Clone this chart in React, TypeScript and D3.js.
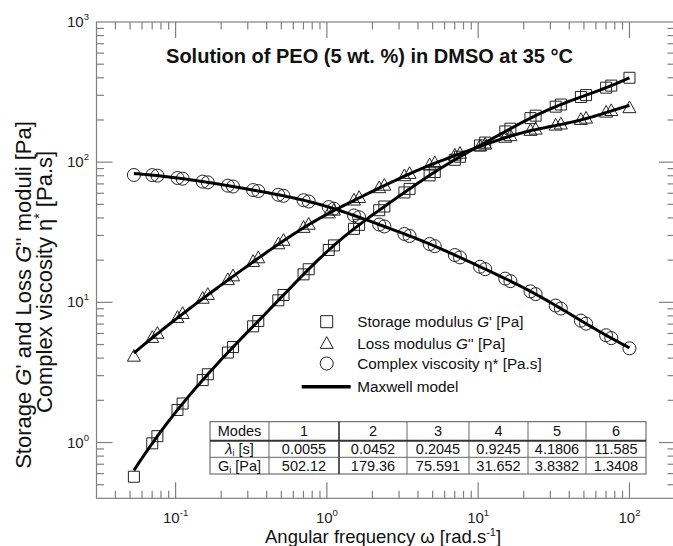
import React from 'react';
import * as d3 from 'd3';

// ---- data ----
const omega = [0.053, 0.0701, 0.0758, 0.1029, 0.1113, 0.151, 0.1633, 0.2216, 0.2397, 0.3254, 0.3519, 0.4776, 0.5166, 0.701, 0.7582, 1.0288, 1.1128, 1.5101, 1.6333, 2.2163, 2.3972, 3.2538, 3.5194, 4.776, 5.1657, 7.0096, 7.5816, 10.288, 11.128, 15.101, 16.333, 22.163, 23.972, 32.538, 35.194, 47.76, 51.657, 70.096, 75.816, 100];
const storageModulus = [0.57, 0.987, 1.11, 1.707, 1.897, 2.789, 3.069, 4.385, 4.797, 6.743, 7.359, 10.34, 11.28, 15.84, 17.23, 23.63, 25.47, 33.44, 35.72, 45.42, 48.27, 60.82, 64.49, 80.53, 85.04, 104.0, 109.3, 131.6, 138.0, 165.6, 173.3, 206.2, 214.7, 248.9, 257.8, 291.6, 301.0, 340.1, 351.7, 400];
const lossModulus = [4.1, 5.58, 5.97, 7.75, 8.27, 10.62, 11.31, 14.42, 15.34, 19.44, 20.64, 25.98, 27.5, 34.02, 35.81, 43.15, 45.16, 53.31, 55.6, 65.28, 67.99, 79.48, 82.56, 94.99, 98.29, 111.4, 114.9, 129.7, 133.6, 149.5, 153.4, 167.4, 170.8, 182.5, 185.9, 200.2, 204.7, 225.9, 231.8, 243];
const complexViscosity = [81, 80.84, 80.14, 77.1, 76.22, 72.71, 71.77, 68.0, 67.03, 63.24, 62.27, 58.53, 57.53, 53.53, 52.41, 47.82, 46.59, 41.67, 40.46, 35.88, 34.78, 30.76, 29.77, 26.07, 25.16, 21.74, 20.92, 17.95, 17.25, 14.77, 14.17, 11.98, 11.45, 9.487, 9.03, 7.405, 7.045, 5.824, 5.557, 4.7];

// Maxwell model parameters (table)
const modeLabels = ['1', '2', '3', '4', '5', '6'];
const relaxationTimes = ['0.0055', '0.0452', '0.2045', '0.9245', '4.1806', '11.585'];
const modeModuli = ['502.12', '179.36', '75.591', '31.652', '3.8382', '1.3408'];

const xTickExponents = [-1, 0, 1, 2];
const yTickExponents = [0, 1, 2, 3];

// ---- layout ----
const W = 673;
const H = 546;
const L = 96.5, R = 675, T = 22, B = 498.3;
const FONT = 'Liberation Sans, Arial, Helvetica, sans-serif';
const AXIS = '#808080';

const x = d3.scaleLog().domain([0.03, 200]).range([L, R]);
const y = d3.scaleLog().domain([0.4, 1000]).range([B, T]);

const isMajor = (v: number) => Math.abs(Math.log10(v) - Math.round(Math.log10(v))) < 1e-6;

// Maxwell model curve from table parameters
const lam = relaxationTimes.map(Number);
const gi = modeModuli.map(Number);
const maxwell = (w: number) => {
  let gp = 0, gpp = 0;
  lam.forEach((l, i) => {
    const t = w * l;
    gp += gi[i] * t * t / (1 + t * t);
    gpp += gi[i] * t / (1 + t * t);
  });
  return { gp, gpp, eta: Math.sqrt(gp * gp + gpp * gpp) / w };
};
const wMin = omega[0], wMax = omega[omega.length - 1];
const modelW = d3.range(0, 241).map(i => wMin * Math.pow(wMax / wMin, i / 240));
const model = modelW.map(w => ({ w, ...maxwell(w) }));

const line = (key: 'gp' | 'gpp' | 'eta') =>
  d3.line<any>().x(d => x(d.w)).y(d => y(d[key]))(model) || '';

const SQ = 11;
const squarePath = (cx: number, cy: number, s = SQ) =>
  `M${cx - s / 2},${cy - s / 2}h${s}v${s}h${-s}Z`;
const triPath = (cx: number, cy: number, s = 13) =>
  `M${cx},${cy - s * 0.55}L${cx + s / 2},${cy + s * 0.35}L${cx - s / 2},${cy + s * 0.35}Z`;

const MK = '#222';

export default function App() {
  const xt = x.ticks().filter(v => v > 0.0301 && v < 199);
  const yt = y.ticks().filter(v => v > 0.401 && v < 999);

  const colX = [210, 269, 339, 407, 469, 528, 586, 646];
  const rowY = [421.7, 440.7, 457.3, 474];
  const cellCx = (i: number) => (colX[i] + colX[i + 1]) / 2;
  const TF = 14.5;

  return (
    <svg width={W} height={H} style={{ position: 'absolute', left: 0, top: 0, display: 'block', background: '#fff' }} fontFamily={FONT}>
      <rect x={0} y={0} width={W} height={H} fill="#fff" />
      {/* frame */}
      <rect x={L} y={T} width={R - L} height={B - T} fill="none" stroke={AXIS} strokeWidth={1.2} />
      {/* x ticks */}
      {xt.map((v, i) => {
        const len = isMajor(v) ? 16 : 7.5;
        const px = x(v);
        return (
          <g key={'xt' + i} stroke={AXIS} strokeWidth={1.2}>
            <line x1={px} x2={px} y1={B} y2={B - len} />
            <line x1={px} x2={px} y1={T} y2={T + len} />
          </g>
        );
      })}
      {yt.map((v, i) => {
        const len = isMajor(v) ? 16 : 7.5;
        const py = y(v);
        return (
          <g key={'yt' + i} stroke={AXIS} strokeWidth={1.2}>
            <line x1={L} x2={L + len} y1={py} y2={py} />
            <line x1={R} x2={R - len} y1={py} y2={py} />
          </g>
        );
      })}
      {/* x tick labels */}
      {xTickExponents.map(e => (
        <text key={'xl' + e} x={x(Math.pow(10, e))} y={523} textAnchor="middle" fontSize={15} fill="#222">
          10<tspan dy={-7} fontSize={9.5}>{e}</tspan>
        </text>
      ))}
      {/* y tick labels */}
      {yTickExponents.map(e => (
        <text key={'yl' + e} x={89} y={y(Math.pow(10, e)) + 5} textAnchor="end" fontSize={15} fill="#222">
          10<tspan dy={-7} fontSize={9.5}>{e}</tspan>
        </text>
      ))}
      {/* axis titles */}
      <text x={265} y={543} fontSize={18.5} fill="#111">
        Angular frequency ω [rad.s<tspan dy={-7} fontSize={11}>-1</tspan><tspan dy={7}>]</tspan>
      </text>
      <g transform="translate(31,0) rotate(-90)">
        <text x={-295} y={0} textAnchor="middle" fontSize={22} fill="#111">
          Storage <tspan fontStyle="italic">G</tspan>' and Loss <tspan fontStyle="italic">G</tspan>'' moduli [Pa]
        </text>
        <text x={-282} y={21} textAnchor="middle" fontSize={22} fill="#111">
          Complex viscosity η<tspan dy={-8} fontSize={14}>*</tspan><tspan dy={8}> [Pa.s]</tspan>
        </text>
      </g>
      {/* title */}
      <text x={369.5} y={63} textAnchor="middle" fontSize={20} fontWeight="bold" fill="#111">
        Solution of PEO (5 wt. %) in DMSO at 35 °C
      </text>

      {/* data markers */}
      <g fill="none" stroke={MK} strokeWidth={1}>
        {omega.map((w, i) => (
          <path key={'s' + i} d={squarePath(x(w), y(storageModulus[i]))} />
        ))}
        {omega.map((w, i) => (
          <path key={'t' + i} d={triPath(x(w), y(lossModulus[i]))} />
        ))}
        {omega.map((w, i) => (
          <circle key={'c' + i} cx={x(w)} cy={y(complexViscosity[i])} r={6.5} />
        ))}
      </g>
      {/* model lines */}
      <g fill="none" stroke="#000" strokeWidth={3}>
        <path d={line('gp')} />
        <path d={line('gpp')} />
        <path d={line('eta')} />
      </g>

      {/* legend */}
      <g fill="none" stroke={MK} strokeWidth={1}>
        <path d={squarePath(326.7, 321.7, 12)} />
        <path d={triPath(326.7, 343.8, 13)} />
        <circle cx={326.7} cy={363.5} r={6.5} />
      </g>
      <line x1={301.7} x2={350.7} y1={386.7} y2={386.7} stroke="#000" strokeWidth={3.5} />
      <g fontSize={15.3} fill="#111">
        <text x={357.3} y={327}>Storage modulus <tspan fontStyle="italic">G</tspan>' [Pa]</text>
        <text x={357.3} y={348.5}>Loss modulus <tspan fontStyle="italic">G</tspan>'' [Pa]</text>
        <text x={357.3} y={369}>Complex viscosity η* [Pa.s]</text>
        <text x={357.3} y={392}>Maxwell model</text>
      </g>

      {/* table */}
      <rect x={colX[0]} y={rowY[0]} width={colX[7] - colX[0]} height={rowY[3] - rowY[0]} fill="#fff" stroke="#555" strokeWidth={1} />
      {colX.slice(1, 7).map((cx, i) => (
        <line key={'cl' + i} x1={cx} x2={cx} y1={rowY[0]} y2={rowY[3]} stroke={i === 1 ? '#222' : '#666'} strokeWidth={i === 1 ? 1.5 : 1} />
      ))}
      <line x1={colX[0]} x2={colX[7]} y1={rowY[1]} y2={rowY[1]} stroke="#333" strokeWidth={2} />
      <line x1={colX[0]} x2={colX[7]} y1={rowY[2]} y2={rowY[2]} stroke="#666" strokeWidth={1} />
      <g fontSize={TF} fill="#111">
        <text x={cellCx(0)} y={436} textAnchor="middle">Modes</text>
        {modeLabels.map((m, i) => (
          <text key={'m' + i} x={cellCx(i + 1)} y={436} textAnchor="middle">{m}</text>
        ))}
        <text x={cellCx(0)} y={454} textAnchor="middle">
          <tspan fontStyle="italic">λ</tspan><tspan fontSize={9} dy={2}>i</tspan><tspan dy={-2}> [s]</tspan>
        </text>
        {relaxationTimes.map((m, i) => (
          <text key={'l' + i} x={cellCx(i + 1)} y={454} textAnchor="middle">{m}</text>
        ))}
        <text x={cellCx(0)} y={471} textAnchor="middle">
          G<tspan fontSize={9} dy={2}>i</tspan><tspan dy={-2}> [Pa]</tspan>
        </text>
        {modeModuli.map((m, i) => (
          <text key={'g' + i} x={cellCx(i + 1)} y={471} textAnchor="middle">{m}</text>
        ))}
      </g>
    </svg>
  );
}
